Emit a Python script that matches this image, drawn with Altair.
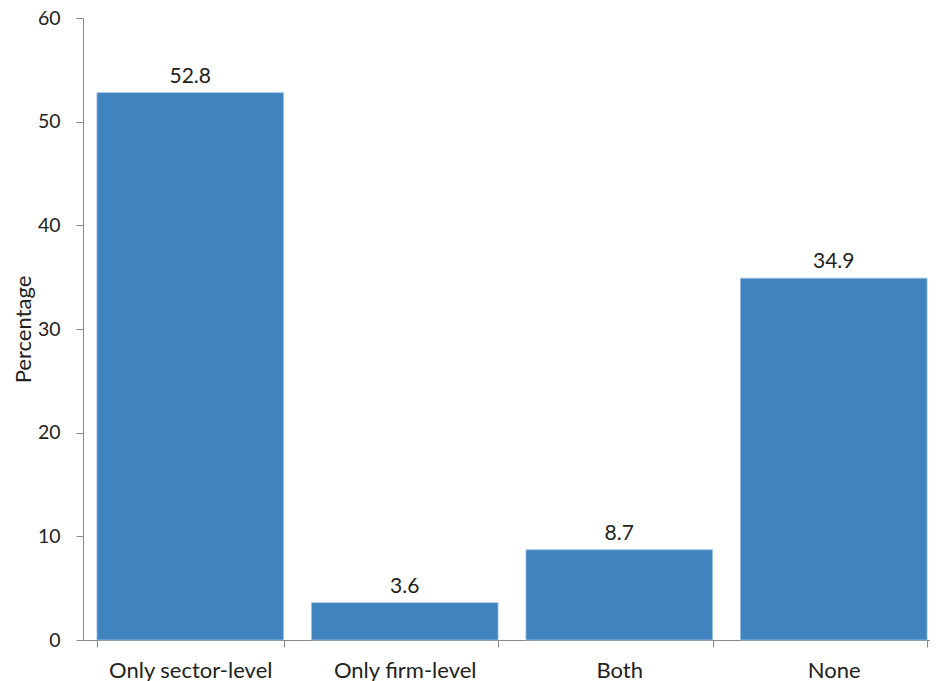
import altair as alt
import pandas as pd

categories = ["Only sector-level", "Only firm-level", "Both", "None"]
values = [52.8, 3.6, 8.7, 34.9]
labels = ["52.8", "3.6", "8.7", "34.9"]

df = pd.DataFrame({"cat": categories, "val": values, "lab": labels})

FONT = "Lato"

x = alt.X(
    "cat:N",
    sort=categories,
    title=None,
    scale=alt.Scale(paddingInner=0.13, paddingOuter=0.065, range=[0, 858]),
    axis=alt.Axis(
        labelAngle=0,
        labelFont=FONT,
        labelFontSize=22,
        labelColor="#222222",
        labelBaseline="alphabetic",
        labelPadding=30,
        tickBand="extent",
        tickSize=7,
        tickColor="#888888",
        domainColor="#888888",
        grid=False,
    ),
)

y = alt.Y(
    "val:Q",
    title="Percentage",
    scale=alt.Scale(domain=[0, 60], nice=False),
    axis=alt.Axis(
        values=[0, 10, 20, 30, 40, 50, 60],
        labelFont=FONT,
        labelFontSize=19.5,
        labelColor="#222222",
        labelPadding=16,
        tickSize=7,
        tickColor="#888888",
        domainColor="#888888",
        grid=False,
        titleFont=FONT,
        titleFontSize=22,
        titleFontWeight="normal",
        titleColor="#222222",
        titlePadding=2,
    ),
)

bars = alt.Chart(df).mark_bar(color="#3F83BF", stroke="#9cc0e3", strokeWidth=0.8).encode(x=x, y=y)
text = alt.Chart(df).mark_text(
    baseline="alphabetic", dy=-10, font=FONT, fontSize=21, color="#222222"
).encode(x=alt.X("cat:N", sort=categories), y="val:Q", text="lab:N")

chart = (
    alt.layer(bars, text)
    .properties(
        width=847,
        height=622,
        autosize=alt.AutoSizeParams(type="none"),
        padding={"left": 75, "top": 10, "right": 0, "bottom": 45},
    )
    .configure_view(stroke=None)
)

chart.save("out.html", embed_options={"renderer": "svg", "actions": False})
